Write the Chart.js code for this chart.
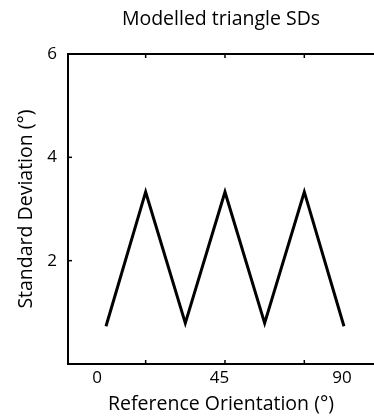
<!DOCTYPE html>
<html><head><meta charset="utf-8">
<script src="https://cdn.jsdelivr.net/npm/chart.js@4.4.1/dist/chart.umd.min.js"></script>
<style>html,body{margin:0;padding:0;background:#fff;}#wrap{width:374px;height:416px;}</style>
</head><body><div id="wrap"><canvas id="c" width="374" height="416"></canvas></div>
<script>
// Data
const orientations = [0, 15, 30, 45, 60, 75, 90];
const sdValues = [0.73, 3.33, 0.79, 3.33, 0.79, 3.33, 0.73];
const xTickLabels = [0, 45, 90];
const xTickMarks = [15, 45, 75];
const yTickLabels = [2, 4, 6];

const FONT = "'Open Sans', 'Liberation Sans', sans-serif";

const boxPlugin = {
  id: 'box',
  afterDraw(chart) {
    const {ctx, chartArea: a, scales} = chart;
    ctx.save();
    ctx.strokeStyle = '#000';
    ctx.lineWidth = 2;
    ctx.beginPath(); ctx.moveTo(a.left - 1, a.top); ctx.lineTo(a.right, a.top); ctx.stroke();
    ctx.lineWidth = 1.5;
    xTickMarks.forEach(v => {
      const px = scales.x.getPixelForValue(v);
      ctx.beginPath();
      ctx.moveTo(px, a.bottom); ctx.lineTo(px, a.bottom - 4);
      ctx.moveTo(px, a.top); ctx.lineTo(px, a.top + 4);
      ctx.stroke();
    });
    yTickLabels.forEach(v => {
      const py = scales.y.getPixelForValue(v);
      ctx.beginPath(); ctx.moveTo(a.left, py); ctx.lineTo(a.left + 4, py); ctx.stroke();
    });
    ctx.restore();
  }
};

new Chart(document.getElementById('c'), {
  type: 'line',
  data: {
    datasets: [{
      data: orientations.map((o, i) => ({x: o, y: sdValues[i]})),
      xAxisID: 'x', yAxisID: 'y',
      borderColor: '#000', borderWidth: 3, pointRadius: 0, tension: 0,
      borderJoinStyle: 'miter', fill: false
    }]
  },
  options: {
    responsive: false, animation: false, devicePixelRatio: 1,
    layout: {padding: 0},
    plugins: {
      legend: {display: false}, tooltip: {enabled: false},
      title: {display: true, text: 'Modelled triangle SDs', color: '#000', fullSize: false,
        font: {family: FONT, size: 19.5, weight: 'normal'}, padding: {top: 7.3, bottom: 23.3}}
    },
    scales: {
      x: {type: 'linear', min: -14.37, max: 101.36, display: false},
      xl: {type: 'linear', position: 'bottom', min: -10.65, max: 101.76,
        afterBuildTicks: s => { s.ticks = xTickLabels.map(v => ({value: v})); },
        afterFit: s => { s.height = 52; },
        grid: {drawOnChartArea: false, drawTicks: false},
        border: {display: true, color: '#000', width: 2},
        ticks: {color: '#000', font: {family: FONT, size: 17}, padding: 4, maxRotation: 0, autoSkip: false},
        title: {display: true, text: 'Reference Orientation (°)', color: '#000',
          font: {family: FONT, size: 19.5}, padding: {top: 0, bottom: 0.3}}
      },
      y: {type: 'linear', position: 'left', min: 0, max: 6,
        afterBuildTicks: s => { s.ticks = yTickLabels.map(v => ({value: v})); },
        afterFit: s => { s.width = 68; },
        grid: {drawOnChartArea: false, drawTicks: false},
        border: {display: true, color: '#000', width: 2},
        ticks: {color: '#000', font: {family: FONT, size: 17}, padding: 11},
        title: {display: true, text: 'Standard Deviation (°)', color: '#000',
          font: {family: FONT, size: 19.5}, padding: {top: 14.3, bottom: 0}}
      }
    }
  },
  plugins: [boxPlugin]
});
</script></body></html>
